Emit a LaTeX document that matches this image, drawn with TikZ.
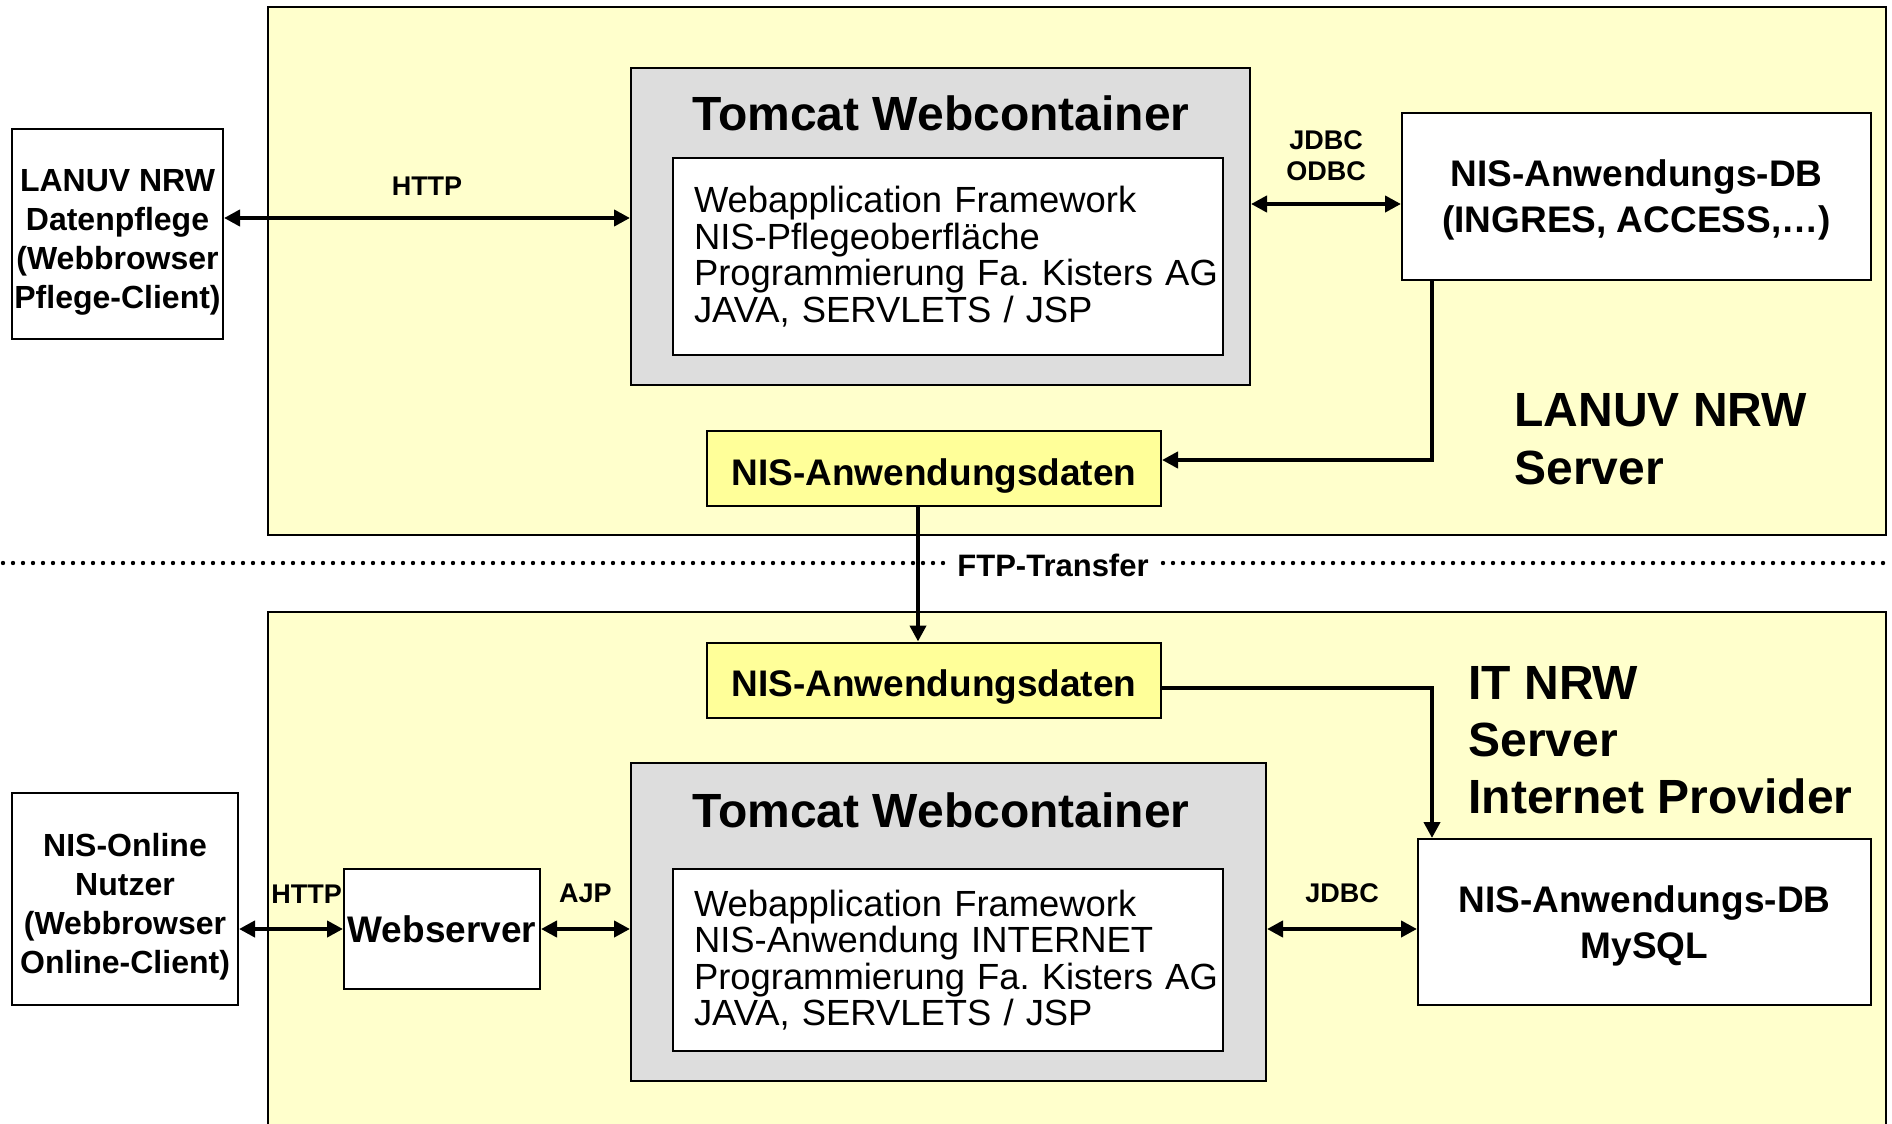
\documentclass[tikz,border=0pt]{standalone}
\usepackage{fontspec}
\setmainfont{Liberation Sans}
\usetikzlibrary{arrows.meta}
\definecolor{panelgelb}{HTML}{FFFFCC}
\definecolor{datengelb}{HTML}{FFFF99}
\definecolor{tomgrau}{HTML}{DDDDDD}
\tikzset{
	kasten/.style={draw, line width=1pt, fill=white, inner sep=0pt},
	grau/.style={kasten, fill=tomgrau},
	daten/.style={kasten, fill=datengelb, minimum width=227pt, minimum height=37.5pt, text height=16.8pt, text depth=0pt, font=\fontsize{18.5}{22}\selectfont\bfseries},
	beschrift/.style={inner sep=0pt, align=center, font=\fontsize{16}{19.5}\selectfont\bfseries},
	inhalt/.style={kasten, align=left, text width=254pt, inner xsep=10.5pt, font=\fontsize{18.2}{18.25}\selectfont},
	titel/.style={inner sep=0pt, font=\fontsize{24}{28}\selectfont\bfseries},
	dbtext/.style={beschrift, font=\fontsize{18.5}{23}\selectfont\bfseries},
	proto/.style={inner sep=0pt, align=center, font=\fontsize{13.5}{15.5}\selectfont\bfseries},
	pfeil/.style={line width=2pt},
}
\begin{document}
\begin{tikzpicture}[x=0.5pt, y=-0.5pt, >={Triangle[length=8pt,width=8pt]}, line join=miter]
	\useasboundingbox (0,0) rectangle (1892,1124);
	% Bereiche
	\draw[fill=panelgelb, line width=1pt] (268,7) rectangle (1886,535);
	\draw[fill=panelgelb, line width=1pt] (268,612) rectangle (1886,1160);
	\draw[line width=2.2pt, line cap=round, dash pattern=on 0pt off 5pt] (3,563)--(1892,563);
	
	% LANUV NRW
	\node[kasten, minimum width=105.5pt, minimum height=105pt] (client1) at (117.5,234) {};
	\node[beschrift] (client1text) at ([yshift=-4pt]client1.center) {LANUV NRW\\Datenpflege\\(Webbrowser\\Pflege-Client)};
	\node[grau, minimum width=309.5pt, minimum height=158.5pt] (tom1) at (940.5,226.5) {};
	\node[titel] (titel1) at (941,113) {Tomcat Webcontainer};
	\node[inhalt, minimum height=98.5pt] (app1) at (948,256.5) {Webapplication Framework\\NIS-Pflegeoberfläche\\\mbox{Programmierung Fa.\ Kisters AG}\\JAVA, SERVLETS / JSP};
	\node[kasten, minimum width=234.5pt, minimum height=83.5pt] (db1) at (1636.5,196.5) {};
	\node[dbtext] (db1text) at ([yshift=-1.75pt]db1.center) {NIS-Anwendungs-DB\\(INGRES, ACCESS,\dots)};
	\node[daten] (daten1) at (934,468.5) {NIS-Anwendungsdaten};
	\node[titel, anchor=west, align=left, font=\fontsize{24}{29}\selectfont\bfseries] (server1) at (1514,439) {LANUV NRW\\Server};
	
	% IT NRW
	\node[daten] (daten2) at (934,680) {NIS-Anwendungsdaten};
	\node[titel, anchor=west, align=left, font=\fontsize{24}{28.5}\selectfont\bfseries] (server2) at (1468,740.5) {IT NRW\\Server\\Internet Provider};
	\node[kasten, minimum width=113pt, minimum height=106pt] (client2) at (125,899) {};
	\node[beschrift] (client2text) at ([yshift=-4pt]client2.center) {NIS-Online\\Nutzer\\(Webbrowser\\Online-Client)};
	\node[kasten, minimum width=98pt, minimum height=60pt, font=\fontsize{18.5}{22}\selectfont\bfseries] (webs) at (442,929) {Webserver};
	\node[grau, minimum width=317.5pt, minimum height=159pt] (tom2) at (948.5,922) {};
	\node[titel] (titel2) at (941,810) {Tomcat Webcontainer};
	\node[inhalt, minimum height=91pt] (app2) at (948,960) {Webapplication Framework\\NIS-Anwendung INTERNET\\\mbox{Programmierung Fa.\ Kisters AG}\\JAVA, SERVLETS / JSP};
	\node[kasten, minimum width=226.5pt, minimum height=83pt] (db2) at (1644.5,922) {};
	\node[dbtext] (db2text) at ([yshift=-1.75pt]db2.center) {NIS-Anwendungs-DB\\MySQL};
	
	% Verbindungen
	\draw[pfeil,<->] (client1.east |- 0,218)--(tom1.west |- 0,218) node[proto, midway, above=10.5pt]{HTTP};
	\draw[pfeil,<->] (tom1.east |- 0,204)--(db1.west |- 0,204) node[proto, midway, above=10.5pt]{JDBC\\ODBC};
	\draw[pfeil,->] ([xshift=15.5pt]db1.south west) |- ([yshift=4.25pt]daten1.east);
	\draw[pfeil,->] ([xshift=-8pt]daten1.south)--([xshift=-8pt]daten2.north);
	\node[proto, fill=white, inner xsep=3.5pt, font=\fontsize{15.5}{18}\selectfont\bfseries] (ftp) at (1053,565) {FTP-Transfer};
	\draw[pfeil,->] ([yshift=-4pt]daten2.east) -| ([xshift=7.5pt]db2.north west);
	\draw[pfeil,<->] (client2.east |- webs.west)--(webs.west) node[proto, pos=0.65, above=12pt]{HTTP};
	\draw[pfeil,<->] (webs.east)--(tom2.west |- webs.east) node[proto, midway, above=12pt]{AJP};
	\draw[pfeil,<->] (tom2.east |- webs.east)--(db2.west |- webs.east) node[proto, midway, above=12pt]{JDBC};
\end{tikzpicture}
\end{document}
